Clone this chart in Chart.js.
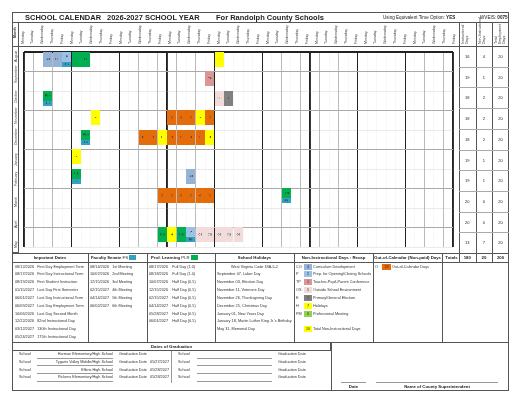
<!DOCTYPE html>
<html><head><meta charset="utf-8">
<script src="https://cdn.jsdelivr.net/npm/chart.js@4"></script>
<style>
body{margin:0;background:#fff;font-family:"Liberation Sans",Arial,sans-serif;}
#root{position:relative;width:520px;height:402px;}
.a{position:absolute;white-space:nowrap;color:#222;}
.box{position:absolute;border:1px solid #555;box-sizing:border-box;}
.rot{position:absolute;transform-origin:left top;transform:rotate(-90deg);font-size:3.6px;color:#333;white-space:nowrap;}
.s{font-size:3.8px;color:#333;}
.hd{font-size:4.3px;font-weight:bold;}
</style></head><body><div id="root">
<canvas id="c" width="441" height="207" style="position:absolute;left:18px;top:46px;"></canvas>
</div>
<script>
const months=['August','September','October','November','December','January','February','March','April','May'];
const weekdays=['Monday','Tuesday','Wednesday','Thursday','Friday'];
const instrDays=[16,19,18,18,18,19,19,20,20,13];
const nonInstrDays=[4,1,2,2,2,1,1,0,0,7];
const totalDays=[20,20,20,20,20,20,20,20,20,20];
const totals=[180,20,200];
// [row, column, code]
const cells=[
[0,2,'CO'],[0,3,'CO'],[0,4,'P/FS'],[0,5,'PL'],[0,6,'PL'],[0,20,'H'],
[1,19,'TP'],
[2,2,'PLN/FS'],[2,20,'OS'],[2,21,'E'],
[3,7,'H'],[3,15,'O'],[3,16,'O'],[3,17,'O'],[3,18,'H'],[3,19,'O'],
[4,6,'PLN/FS'],[4,12,'O'],[4,13,'O'],[4,14,'H'],[4,15,'O'],[4,16,'O'],[4,17,'O'],[4,18,'O'],[4,19,'H'],
[5,5,'H'],
[6,5,'PLN/FS'],[6,17,'CO'],
[7,14,'O'],[7,15,'O'],[7,16,'O'],[7,17,'O'],[7,18,'O'],[7,19,'O'],[7,27,'PLN/FS'],
[9,14,'PLN'],[9,15,'H'],[9,16,'PLN'],[9,17,'P/FS'],[9,18,'OS'],[9,19,'OS'],[9,20,'OS'],[9,21,'OS'],[9,22,'OS']
];
const importantDates=[['08/12/2026','First Day Employment Term'],['08/17/2026','First Day Instructional Term'],['08/19/2026','First Student Instruction'],['01/15/2027','Last Day First Semester'],['06/01/2027','Last Day Instructional Term'],['06/09/2027','Last Day Employment Term'],['10/06/2026','Last Day Second Month'],['12/22/2026','82nd Instructional Day'],['03/12/2027','130th Instructional Day'],['05/24/2027','175th Instructional Day']];
const senate=[['08/14/2026','1st Meeting'],['10/07/2026','2nd Meeting'],['12/15/2026','3rd Meeting'],['02/15/2027','4th Meeting'],['04/14/2027','5th Meeting'],['06/02/2027','6th Meeting']];
const profLearning=[['08/17/2026','Full Day (1.0)'],['08/18/2026','Full Day (1.0)'],['10/07/2026','Half Day (0.5)'],['12/15/2026','Half Day (0.5)'],['02/15/2027','Half Day (0.5)'],['04/14/2027','Half Day (0.5)'],['05/28/2027','Half Day (0.5)'],['06/01/2027','Half Day (0.5)']];
const holidays=['West Virginia Code 18A-5-2','September 07, Labor Day','November 03, Election Day','November 11, Veterans Day','November 26, Thanksgiving Day','December 25, Christmas Day','January 01, New Years Day','January 18, Martin Luther King Jr.\'s Birthday','May 31, Memorial Day'];
const recap=[['CO','4','Curriculum Development'],['P','2','Prep. for Opening/Closing Schools'],['TP','1','Teacher-Pupil-Parent Conference'],['OS','5','Outside School Environment'],['E','1','Primary/General Election'],['H','7','Holidays'],['PM','0','Professional Meeting']];
const grads=[['Harman Elementary/High School',''],['Tygarts Valley Middle/High School','05/27/2027'],['Elkins High School','05/28/2027'],['Pickens Elementary/High School','05/28/2027']];

const colors={CO:'#95b3d7',P:'#9bc2e6',FS:'#31a2c4',PL:'#00b050',PLN:'#00b050',H:'#ffff00',TP:'#da9694',OS:'#f2dcdb',E:'#808080',O:'#e46c0a',PM:'#92d050'};
function cellImg(code){
  const c=document.createElement('canvas');const s=4;c.width=9*s;c.height=15*s;
  const x=c.getContext('2d');x.scale(s,s);
  const parts=code.split('/');
  x.textAlign='center';x.textBaseline='middle';x.font='2.8px Liberation Sans';
  if(parts.length===2){x.fillStyle=colors[parts[0]];x.fillRect(0,0,9,10);x.fillStyle=colors[parts[1]];x.fillRect(0,10,9,5);
    x.fillStyle='#333';x.fillText(parts[0],4.5,5);x.fillText(parts[1],4.5,12.5);}
  else{x.fillStyle=colors[code];x.fillRect(0,0,9,15);x.fillStyle='#333';x.fillText(code,4.5,7.5);}
  const img=new Image();img.src=c.toDataURL();img.width=9;img.height=15;return img;
}
const codes=[...new Set(cells.map(c=>c[2]))];
const datasets=codes.map(cd=>({label:cd,data:cells.filter(c=>c[2]===cd).map(c=>({x:c[1]+0.5,y:c[0]+0.37})),pointStyle:cellImg(cd),pointRadius:5}));
const gridW=ctx=>{const v=ctx.tick&&ctx.tick.value;return ctx.scale.axis==='x'?(v%5===0?1.3:0.4):(v===0?1.5:0.5);};
setTimeout(()=>{
new Chart(document.getElementById('c'),{type:'scatter',data:{datasets},
options:{responsive:false,animation:false,devicePixelRatio:3,layout:{padding:0},
plugins:{legend:{display:false},tooltip:{enabled:false}},
scales:{x:{type:'linear',min:0,max:45,ticks:{display:false,stepSize:1},border:{display:false},grid:{drawTicks:false,color:ctx=>ctx.tick.value%5===0?'#222':'#bbb',lineWidth:gridW}},
y:{type:'linear',min:0,max:10,reverse:true,ticks:{display:false,stepSize:1},border:{display:false},grid:{drawTicks:false,color:ctx=>ctx.tick.value===0?'#222':'#aaa',lineWidth:gridW}}}}});
},80);

const R=document.getElementById('root');
function add(html,css,cls){const d=document.createElement('div');d.className=cls||'a';d.innerHTML=html;d.style.cssText+=css;R.appendChild(d);return d;}
add('','left:12px;top:12px;width:497px;height:379px;','box');
add('','left:12px;top:12px;width:497px;height:11px;','box');
add('','left:12px;top:22px;width:497px;height:25px;','box');
add('','left:12px;top:253px;width:497px;height:10px;','box');
add('','left:12px;top:342px;width:497px;height:49px;','box');
add('','left:331px;top:342px;width:178px;height:49px;','box');
add('','left:459px;top:22px;width:50px;height:241px;border-width:1px 1px 1px 1.5px','box');
add('','left:12px;top:22px;width:6.5px;height:231px;','box');
add('SCHOOL CALENDAR','left:25px;top:13px;font-size:7.5px;font-weight:bold;');
add('2026-2027 SCHOOL YEAR','left:107px;top:13px;font-size:7.5px;font-weight:bold;');
add('For Randolph County Schools','left:216px;top:13px;font-size:7.5px;font-weight:bold;');
add('Using Equivalent Time Option: <b>YES</b>','left:383px;top:14.5px;font-size:4.6px;');
add('WVEIS: <b>0075</b>','left:480px;top:14.5px;font-size:4.6px;');
add('Month','left:13px;top:38px;font-weight:bold;','rot');
for(let i=0;i<45;i++)add(weekdays[i%5],'left:'+(20.5+i*9.8)+'px;top:44px;','rot');
['Instructional Days','Non-Instructional Days','Total Employment Days'].forEach((t,i)=>add(t.replace(' ','<br>').replace(' Days','<br>Days'),'left:'+(462+i*16.5)+'px;top:44px;line-height:3.8px;','rot'));
for(let i=1;i<3;i++)add('','left:'+(459+i*16.6)+'px;top:22px;width:0;height:241px;border-width:0 0 0 1px','box');
months.forEach((m,r)=>{
  const y=46+r*20.7;
  add(m,'left:13.5px;top:'+(y+16)+'px;','rot');
  [instrDays[r],nonInstrDays[r],totalDays[r]].forEach((v,i)=>add(v,'left:'+(459+i*16.6)+'px;width:16.6px;text-align:center;top:'+(y+8)+'px;font-size:4px;'));
  if(r>0)add('','left:459px;top:'+y+'px;width:50px;height:0;border-width:1px 0 0 0;border-color:#aaa','box');
});
const cols=[12,88,147,215,294,373,442,509];
for(let i=1;i<7;i++)add('','left:'+cols[i]+'px;top:253px;width:0;height:89px;border-width:0 0 0 1px','box');
add('Important Dates','left:12px;width:76px;text-align:center;top:255px;','a hd');
add('Faculty Senate <span style="font-weight:normal">FS</span> <span style="background:#31a2c4;padding:0 3px">&nbsp;</span>','left:91px;top:255px;','a hd');
add('Prof. Learning <span style="font-weight:normal">PLR</span> <span style="background:#00b050;padding:0 3px">&nbsp;</span>','left:151px;top:255px;','a hd');
add('School Holidays','left:215px;width:79px;text-align:center;top:255px;','a hd');
add('Non-Instructional Days : Recap','left:294px;width:79px;text-align:center;top:255px;','a hd');
add('Out-of-Calendar (Non-paid) Days','left:373px;width:69px;text-align:center;top:255px;','a hd');
add('Totals','left:444px;width:15px;text-align:center;top:255px;','a hd');
totals.forEach((v,i)=>add(v,'left:'+(459+i*16.6)+'px;width:16.6px;text-align:center;top:255px;','a hd'));
const ry=i=>264.5+i*7.85;
importantDates.forEach((d,i)=>add(d[0]+'&nbsp;&nbsp; '+d[1],'left:15px;top:'+ry(i)+'px;','a s'));
senate.forEach((d,i)=>add(d[0]+'&nbsp;&nbsp; '+d[1],'left:90px;top:'+ry(i)+'px;','a s'));
profLearning.forEach((d,i)=>add(d[0]+'&nbsp;&nbsp;&nbsp; '+d[1],'left:149px;top:'+ry(i)+'px;','a s'));
holidays.forEach((d,i)=>add(d,'left:'+(i?217:231)+'px;top:'+ry(i)+'px;','a s'));
recap.forEach((d,i)=>{add(d[0],'left:296px;top:'+ry(i)+'px;','a s');
  add(d[1],'left:304px;width:8px;text-align:center;top:'+(ry(i)-1)+'px;height:6px;line-height:6px;background:'+colors[d[0]]+';','a s');
  add(d[2],'left:313px;top:'+ry(i)+'px;','a s');});
add('20','left:304px;width:8px;text-align:center;top:'+(ry(8)-1)+'px;height:6px;line-height:6px;background:#ffff00;','a s');
add('Total Non-Instructional Days','left:313px;top:'+ry(8)+'px;','a s');
add('O','left:375px;top:'+ry(0)+'px;','a s');
add('18','left:382px;width:9px;text-align:center;top:'+(ry(0)-1)+'px;height:6px;line-height:6px;background:#e46c0a;','a s');
add('Out-of-Calendar Days','left:392px;top:'+ry(0)+'px;','a s');
add('Dates of Graduation','left:12px;width:319px;text-align:center;top:344px;','a hd');
add('','left:12px;top:342px;width:319px;height:9px;','box');
add('','left:171px;top:351px;width:0;height:32px;border-width:0 0 0 1px;border-color:#999','box');
grads.forEach((g,i)=>{const y=352+i*7.8;
  add('School','left:19px;top:'+y+'px;','a s');
  add(g[0],'left:37px;width:76px;text-align:right;top:'+y+'px;','a s');
  add('','left:37px;top:'+(y+5.5)+'px;width:76px;height:0;border-width:1px 0 0 0;border-color:#999','box');
  add('Graduation Date&nbsp;&nbsp; '+g[1],'left:119px;top:'+y+'px;','a s');
  add('School','left:178px;top:'+y+'px;','a s');
  add('','left:197px;top:'+(y+5.5)+'px;width:75px;height:0;border-width:1px 0 0 0;border-color:#999','box');
  add('Graduation Date','left:278px;top:'+y+'px;','a s');
});
add('','left:341px;top:382px;width:25px;height:0;border-width:1px 0 0 0;border-color:#999','box');
add('','left:376px;top:382px;width:122px;height:0;border-width:1px 0 0 0;border-color:#999','box');
add('Date','left:341px;width:25px;text-align:center;top:384px;','a hd');
add('Name of County Superintendent','left:376px;width:122px;text-align:center;top:384px;','a hd');
</script></body></html>
